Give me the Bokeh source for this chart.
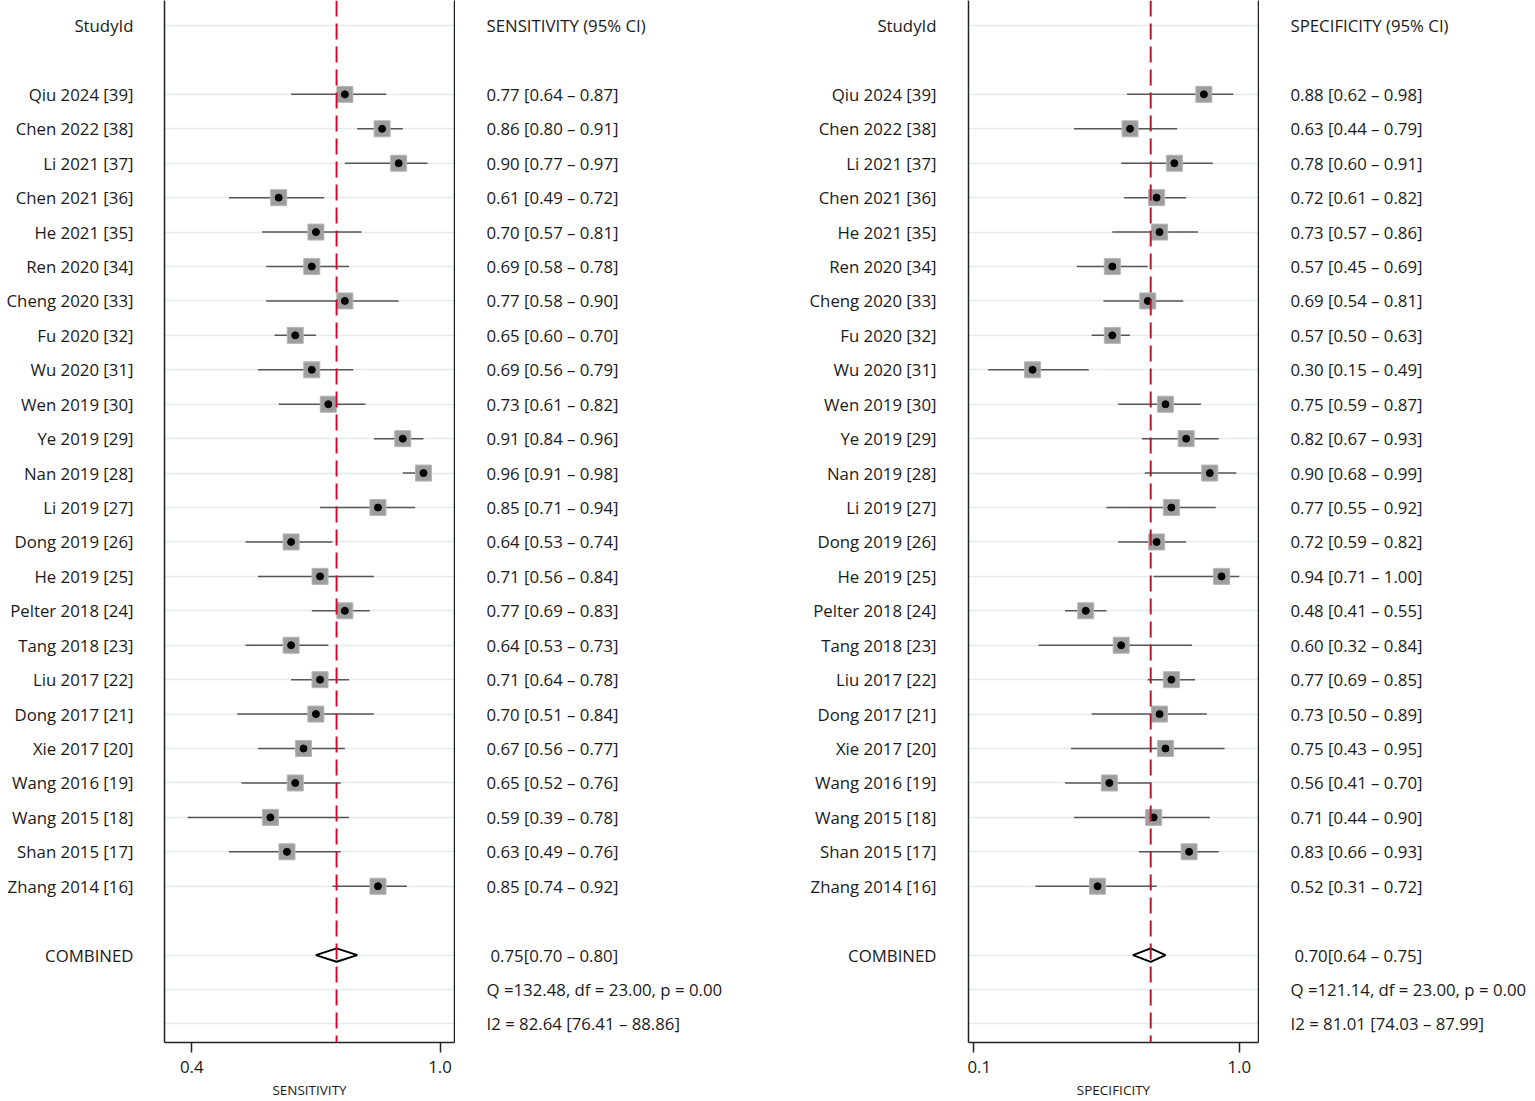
from bokeh.plotting import figure
from bokeh.layouts import row
from bokeh.models import Range1d, FixedTicker, Span, PrintfTickFormatter, ColumnDataSource, LinearAxis
from bokeh.embed import file_html
from bokeh.resources import INLINE
from bokeh.core.properties import value

# ---------------- data ----------------
studies = ["Qiu 2024 [39]", "Chen 2022 [38]", "Li 2021 [37]", "Chen 2021 [36]", "He 2021 [35]",
           "Ren 2020 [34]", "Cheng 2020 [33]", "Fu 2020 [32]", "Wu 2020 [31]", "Wen 2019 [30]",
           "Ye 2019 [29]", "Nan 2019 [28]", "Li 2019 [27]", "Dong 2019 [26]", "He 2019 [25]",
           "Pelter 2018 [24]", "Tang 2018 [23]", "Liu 2017 [22]", "Dong 2017 [21]", "Xie 2017 [20]",
           "Wang 2016 [19]", "Wang 2015 [18]", "Shan 2015 [17]", "Zhang 2014 [16]"]

sens_est = [0.77, 0.86, 0.90, 0.61, 0.70, 0.69, 0.77, 0.65, 0.69, 0.73, 0.91, 0.96,
            0.85, 0.64, 0.71, 0.77, 0.64, 0.71, 0.70, 0.67, 0.65, 0.59, 0.63, 0.85]
sens_lo = [0.64, 0.80, 0.77, 0.49, 0.57, 0.58, 0.58, 0.60, 0.56, 0.61, 0.84, 0.91,
           0.71, 0.53, 0.56, 0.69, 0.53, 0.64, 0.51, 0.56, 0.52, 0.39, 0.49, 0.74]
sens_hi = [0.87, 0.91, 0.97, 0.72, 0.81, 0.78, 0.90, 0.70, 0.79, 0.82, 0.96, 0.98,
           0.94, 0.74, 0.84, 0.83, 0.73, 0.78, 0.84, 0.77, 0.76, 0.78, 0.76, 0.92]

spec_est = [0.88, 0.63, 0.78, 0.72, 0.73, 0.57, 0.69, 0.57, 0.30, 0.75, 0.82, 0.90,
            0.77, 0.72, 0.94, 0.48, 0.60, 0.77, 0.73, 0.75, 0.56, 0.71, 0.83, 0.52]
spec_lo = [0.62, 0.44, 0.60, 0.61, 0.57, 0.45, 0.54, 0.50, 0.15, 0.59, 0.67, 0.68,
           0.55, 0.59, 0.71, 0.41, 0.32, 0.69, 0.50, 0.43, 0.41, 0.44, 0.66, 0.31]
spec_hi = [0.98, 0.79, 0.91, 0.82, 0.86, 0.69, 0.81, 0.63, 0.49, 0.87, 0.93, 0.99,
           0.92, 0.82, 1.00, 0.55, 0.84, 0.85, 0.89, 0.95, 0.70, 0.90, 0.93, 0.72]

sens_combined = [0.75, 0.70, 0.80]   # estimate, lower, upper
spec_combined = [0.70, 0.64, 0.75]
sens_stats = ["Q =132.48, df = 23.00, p =  0.00", "I2 = 82.64 [76.41 \u2013 88.86]"]
spec_stats = ["Q =121.14, df = 23.00, p =  0.00", "I2 = 81.01 [74.03 \u2013 87.99]"]

sens_ticks = [0.4, 1.0]
spec_ticks = [0.1, 1.0]
sens_xrange = (0.334, 1.035)
spec_xrange = (0.083, 1.065)

# row positions (0 = header, 1 = blank, studies, blank, combined, two stats rows)
header_row = 0
study_rows = list(range(2, 2 + len(studies)))
comb_row = study_rows[-1] + 2
stat_rows = [comb_row + 1, comb_row + 2]
grid_rows = [header_row] + study_rows + [comb_row] + stat_rows

# ---------------- layout / style ----------------
FONT = "Open Sans"
FS = "16.8px"
TXT = "#1a1a1a"
FRAME_H = 1042
ROW_PX = 34.43
TOP_PX = 25.0
y_top = -TOP_PX / ROW_PX
y_bot = y_top + FRAME_H / ROW_PX
yr = Range1d(start=y_bot, end=y_top)


def text_fig(w):
    f = figure(frame_width=w, frame_height=FRAME_H, x_range=Range1d(0, w), y_range=yr,
               output_backend="svg", toolbar_location=None,
               x_axis_location=None, y_axis_location=None,
               min_border_left=0, min_border_right=0, min_border_top=0, min_border_bottom=0,
               outline_line_color=None, background_fill_color="white", border_fill_color="white")
    f.grid.visible = False
    return f


def add_text(f, x, y, texts, align):
    src = ColumnDataSource(dict(x=[x] * len(texts), y=y, t=texts))
    f.text(x="x", y="y", text="t", source=src, text_font=value(FONT), text_font_size=FS,
           text_color=TXT, text_align=align, text_baseline="middle")


def ci_strings(est, lo, hi):
    return [f"{e:.2f} [{l:.2f} \u2013 {h:.2f}]" for e, l, h in zip(est, lo, hi)]


def border_axis(ax):
    ax.ticker = FixedTicker(ticks=[])
    ax.major_tick_line_color = None
    ax.minor_tick_line_color = None
    ax.major_tick_out = 0
    ax.major_tick_in = 0
    ax.minor_tick_out = 0
    ax.major_label_standoff = 0
    ax.major_label_text_font_size = "0px"
    ax.axis_line_color = "#222222"
    ax.axis_line_width = 1.5


def forest(xr, ticks, est, lo, hi, comb, label):
    p = figure(frame_width=290, frame_height=FRAME_H, x_range=Range1d(*xr), y_range=yr,
               output_backend="svg", toolbar_location=None,
               min_border_left=1, min_border_right=1, min_border_top=0, min_border_bottom=0,
               outline_line_color=None, background_fill_color="white", border_fill_color="white")
    p.xgrid.visible = False
    p.ygrid.ticker = FixedTicker(ticks=grid_rows)
    p.ygrid.grid_line_color = "#e1ecef"
    p.ygrid.grid_line_width = 1.5
    border_axis(p.yaxis[0])
    rax = LinearAxis()
    border_axis(rax)
    p.add_layout(rax, "right")

    xa = p.xaxis[0]
    xa.ticker = FixedTicker(ticks=ticks)
    xa.formatter = PrintfTickFormatter(format="%.1f")
    xa.minor_tick_line_color = None
    xa.major_tick_in = 0
    xa.major_tick_out = 10
    xa.major_tick_line_color = "#222222"
    xa.major_tick_line_width = 1.5
    xa.axis_line_color = "#222222"
    xa.axis_line_width = 1.5
    xa.major_label_standoff = 8
    xa.major_label_text_font = FONT
    xa.major_label_text_font_size = FS
    xa.major_label_text_color = TXT
    xa.axis_label = label
    xa.axis_label_standoff = 5
    xa.axis_label_text_font = FONT
    xa.axis_label_text_font_size = "13.5px"
    xa.axis_label_text_font_style = "normal"
    xa.axis_label_text_color = TXT

    src = ColumnDataSource(dict(y=study_rows, est=est, lo=lo, hi=hi))
    p.segment(x0="lo", y0="y", x1="hi", y1="y", source=src, line_color="#555555", line_width=1.5)
    p.scatter(x="est", y="y", source=src, marker="square", size=16,
              fill_color="#9d9d9d", line_color="#b5b5b5", line_width=1)
    p.scatter(x="est", y="y", source=src, marker="circle", size=7,
              fill_color="black", line_color="black")
    e, l, h = comb
    half = 0.195
    p.patch(x=[l, e, h, e], y=[comb_row, comb_row - half, comb_row, comb_row + half],
            fill_color="white", line_color="black", line_width=2)
    p.add_layout(Span(location=e, dimension="height", line_color="#c8102e",
                      line_width=2, line_dash="16 7"))
    return p


# panel 1 left labels
L1 = text_fig(163)
add_text(L1, 133, [header_row], ["StudyId"], "right")
add_text(L1, 133, study_rows, studies, "right")
add_text(L1, 133, [comb_row], ["COMBINED"], "right")

C1 = forest(sens_xrange, sens_ticks, sens_est, sens_lo, sens_hi, sens_combined, "SENSITIVITY")

# middle: panel 1 CI column + panel 2 labels
M = text_fig(512)
add_text(M, 31, [header_row], ["SENSITIVITY (95% CI)"], "left")
add_text(M, 31, study_rows, ci_strings(sens_est, sens_lo, sens_hi), "left")
add_text(M, 35, [comb_row], [f"{sens_combined[0]:.2f}[{sens_combined[1]:.2f} \u2013 {sens_combined[2]:.2f}]"], "left")
add_text(M, 31, stat_rows, sens_stats, "left")
add_text(M, 481, [header_row], ["StudyId"], "right")
add_text(M, 481, study_rows, studies, "right")
add_text(M, 481, [comb_row], ["COMBINED"], "right")

C2 = forest(spec_xrange, spec_ticks, spec_est, spec_lo, spec_hi, spec_combined, "SPECIFICITY")

R2 = text_fig(274)
add_text(R2, 31, [header_row], ["SPECIFICITY (95% CI)"], "left")
add_text(R2, 31, study_rows, ci_strings(spec_est, spec_lo, spec_hi), "left")
add_text(R2, 35, [comb_row], [f"{spec_combined[0]:.2f}[{spec_combined[1]:.2f} \u2013 {spec_combined[2]:.2f}]"], "left")
add_text(R2, 31, stat_rows, spec_stats, "left")

layout = row(L1, C1, M, C2, R2, spacing=0)

open("out.html", "w").write(file_html(layout, INLINE))
